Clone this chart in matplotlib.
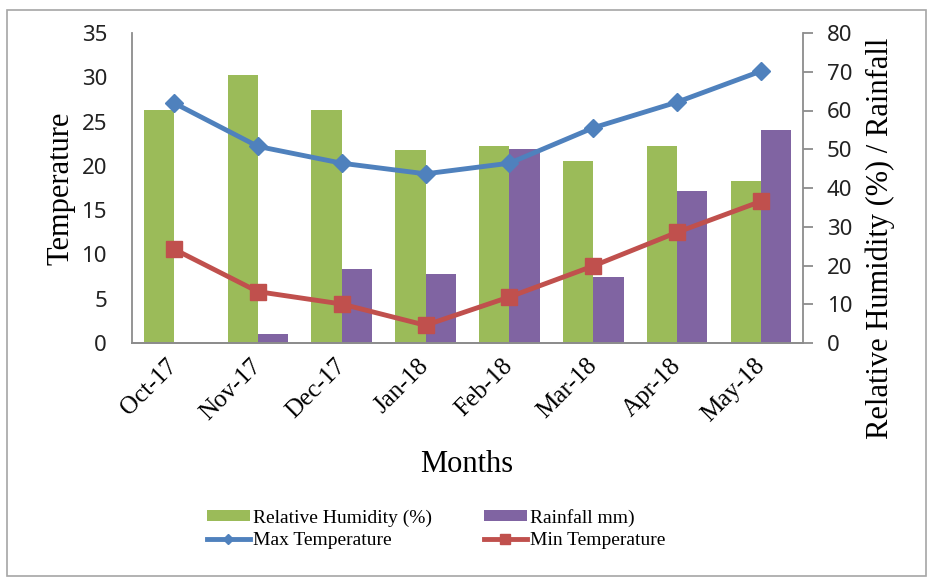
import numpy as np
import matplotlib
matplotlib.use("Agg")
import matplotlib.pyplot as plt
from matplotlib.patches import Rectangle

months = ["Oct-17", "Nov-17", "Dec-17", "Jan-18", "Feb-18", "Mar-18", "Apr-18", "May-18"]
humidity = [60.1, 69.2, 60.1, 49.8, 50.8, 47.0, 50.9, 41.8]
rainfall = [0.0, 2.3, 19.1, 17.8, 50.1, 17.0, 39.3, 55.0]
max_temp = [27.1, 22.2, 20.3, 19.1, 20.3, 24.3, 27.2, 30.7]
min_temp = [10.6, 5.8, 4.4, 2.0, 5.2, 8.7, 12.5, 16.0]

GREEN = "#9BBB59"
PURPLE = "#8064A2"
BLUE = "#4F81BD"
RED = "#C0504D"
SPINE = "#8C8C8C"
SERIF = "Liberation Serif"
SANS = "Noto Sans"

fig = plt.figure(figsize=(9.34, 5.79), dpi=100)
# outer chart frame
fig.patches.append(Rectangle((7 / 934, 1 - 576 / 579), 919 / 934, 566 / 579,
                             transform=fig.transFigure, fill=False,
                             edgecolor="#A6A6A6", linewidth=1.2))

ax = fig.add_axes([132 / 934, 1 - 343 / 579, 671 / 934, 310 / 579])
ax2 = ax.twinx()
ax.set_zorder(ax2.get_zorder() + 1)
ax.patch.set_visible(False)

x = np.arange(len(months))
w = 0.36
b1 = ax2.bar(x - w / 2, humidity, width=w, color=GREEN, label="Relative Humidity (%)")
b2 = ax2.bar(x + w / 2, rainfall, width=w, color=PURPLE, label="Rainfall mm)")

l1, = ax.plot(x, max_temp, color=BLUE, lw=3.5, marker="D", ms=9, label="Max Temperature")
l2, = ax.plot(x, min_temp, color=RED, lw=3.5, marker="s", ms=12, label="Min Temperature")

ax.set_xlim(-0.5, len(months) - 0.5)
ax.set_ylim(0, 35)
ax2.set_ylim(0, 80)
ax.set_yticks(range(0, 36, 5))
ax2.set_yticks(range(0, 81, 10))

for a in (ax, ax2):
    a.spines["top"].set_visible(False)
    for s in ("left", "right", "bottom"):
        a.spines[s].set_color(SPINE)
        a.spines[s].set_linewidth(1.3)
ax.spines["right"].set_visible(False)
ax2.spines["left"].set_visible(False)

ax.tick_params(axis="y", length=0, pad=18, labelsize=16, labelcolor="#222222")
ax2.tick_params(axis="y", length=7, width=1.3, color=SPINE, pad=10,
                labelsize=16, labelcolor="#222222")
for lab in ax.get_yticklabels() + ax2.get_yticklabels():
    lab.set_family(SANS)

ax.set_xticks(x)
ax.set_xticklabels(months, rotation=45, ha="right", va="center",
                   rotation_mode="anchor", fontsize=18, family=SERIF)
ax.tick_params(axis="x", length=0, pad=14)

fig.text(61 / 934, 1 - 188 / 579, "Temperature", rotation=90, ha="center", va="center",
         fontsize=22, family=SERIF)
fig.text(880 / 934, 1 - 238 / 579, "Relative Humidity (%) / Rainfall", rotation=90,
         ha="center", va="center", fontsize=22, family=SERIF)
fig.text(467 / 934, 1 - 464 / 579, "Months", ha="center", va="center",
         fontsize=22, family=SERIF)

fig.legend([b1, l1, b2, l2],
           ["Relative Humidity (%)", "Max Temperature", "Rainfall mm)", "Min Temperature"],
           ncol=2, loc="center", bbox_to_anchor=(436 / 934, 1 - 529 / 579),
           frameon=False, prop={"family": SERIF, "size": 14},
           handlelength=2.2, handleheight=0.5, handletextpad=0.15,
           columnspacing=2.7, labelspacing=0.3, markerscale=0.6)

fig.savefig("out.png", dpi=100)
